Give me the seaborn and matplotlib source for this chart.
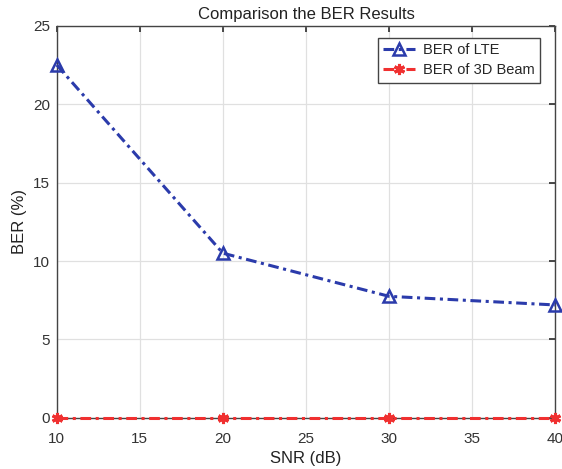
import matplotlib
matplotlib.use("Agg")
import matplotlib.pyplot as plt
import seaborn as sns
import pandas as pd

snr = [10, 20, 30, 40]
ber_lte = [22.5, 10.5, 7.75, 7.2]
ber_3d = [0.0, 0.0, 0.0, 0.0]
x_ticks = [10, 15, 20, 25, 30, 35, 40]
y_ticks = [0, 5, 10, 15, 20, 25]

sns.set_theme(style="whitegrid")
plt.rcParams['font.family'] = ['Liberation Sans', 'DejaVu Sans']

df = pd.DataFrame({"SNR": snr * 2,
                   "BER": ber_lte + ber_3d,
                   "Series": ["BER of LTE"] * 4 + ["BER of 3D Beam"] * 4})

fig = plt.figure(figsize=(5.62, 4.69), dpi=100)
ax = fig.add_axes([0.101, 0.109, 0.887, 0.836])
ax.set_facecolor("white")

blue = "#2b3bab"
red = "#f03030"
dashdot = (0, (3.5, 1.5, 1, 1.5))
sns.lineplot(data=df[df.Series == "BER of LTE"], x="SNR", y="BER", ax=ax,
             color=blue, linestyle=dashdot, linewidth=2.2, marker="^", markersize=8,
             markerfacecolor="none", markeredgecolor=blue, markeredgewidth=1.8,
             clip_on=False, zorder=5, label="BER of LTE")
sns.lineplot(data=df[df.Series == "BER of 3D Beam"], x="SNR", y="BER", ax=ax,
             color=red, linestyle=dashdot, linewidth=2.2, marker=(6, 2, 0), markersize=8,
             markerfacecolor=red, markeredgecolor=red, markeredgewidth=2.2,
             clip_on=False, zorder=5, label="BER of 3D Beam")

ax.set_xlim(10, 40)
ax.set_ylim(0, 25)
ax.set_xticks(x_ticks)
ax.set_yticks(y_ticks)
ax.grid(True, color="#e0e0e0", linewidth=0.9)
for s in ax.spines.values():
    s.set_color("#444444")
    s.set_linewidth(1.0)
    s.set_visible(True)
    s.set_zorder(2)
ax.tick_params(axis="both", labelsize=11, colors="#333333", length=4, direction="in",
               top=True, right=True)
ax.tick_params(axis="x", pad=10)
ax.tick_params(axis="y", pad=5)
ax.set_xlabel("SNR (dB)", fontsize=12, color="#222222", labelpad=4)
ax.set_ylabel("BER (%)", fontsize=12, color="#222222")
ax.set_title("Comparison the BER Results", fontsize=12, color="#222222", pad=5)
leg = ax.legend(loc="upper right", fontsize=10.5, frameon=True, fancybox=False,
                edgecolor="#444444", framealpha=1, borderpad=0.4, borderaxespad=0,
                handlelength=2.2, labelspacing=0.4, handletextpad=0.5,
                bbox_to_anchor=(0.97, 0.97))
leg.get_frame().set_linewidth(1.0)
leg.set_zorder(10)

fig.savefig("out.png", dpi=100)
